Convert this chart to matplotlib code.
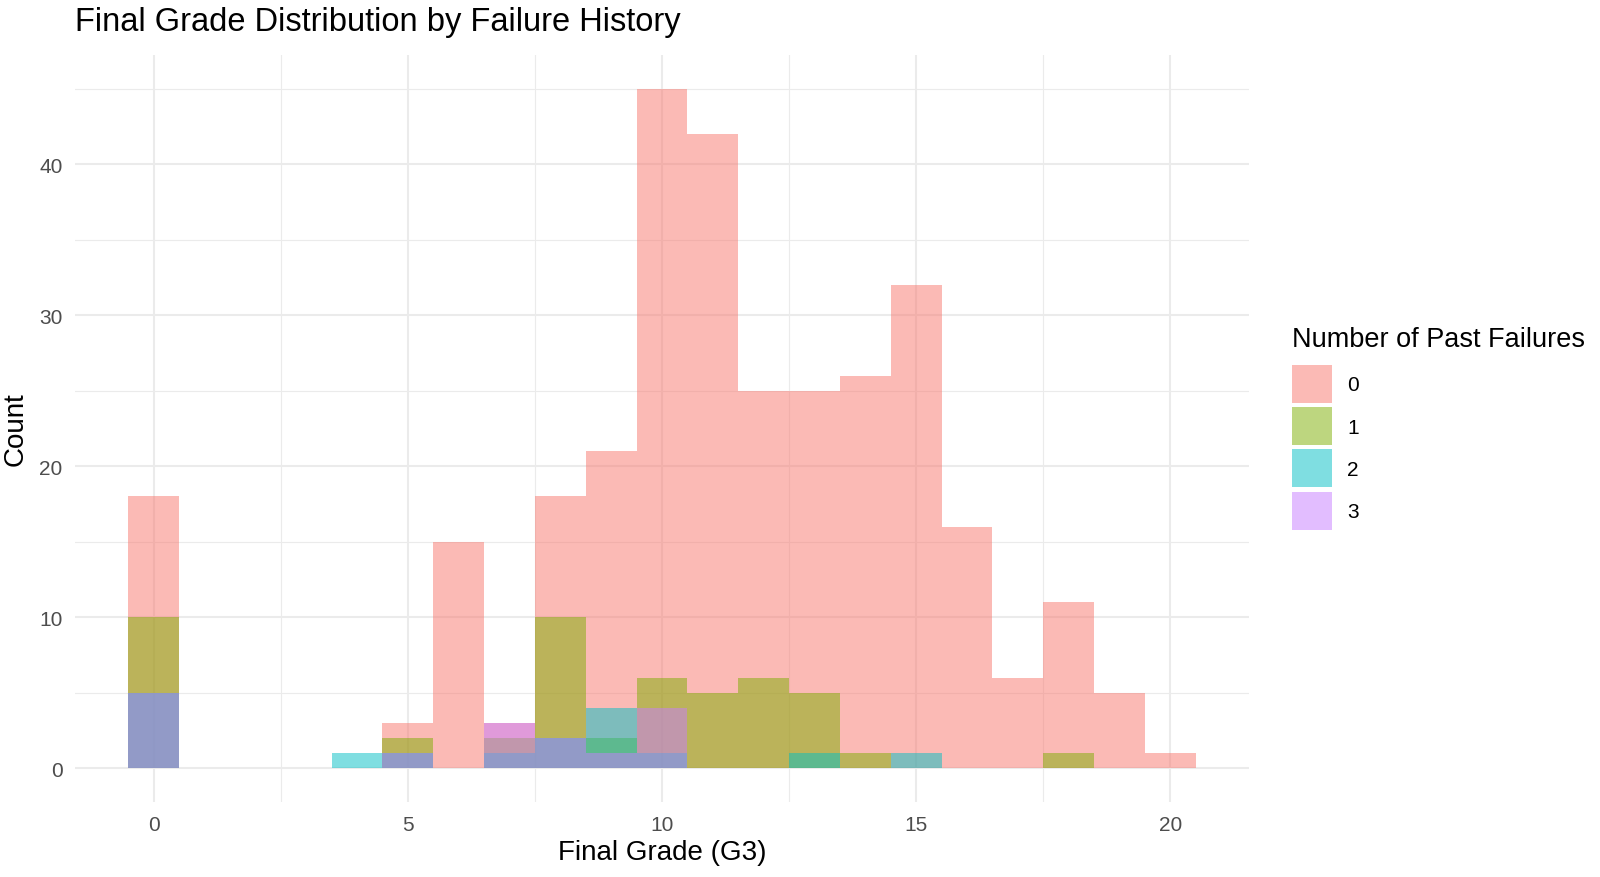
import matplotlib
matplotlib.use("Agg")
import matplotlib.pyplot as plt
import numpy as np
from matplotlib.patches import Patch

plt.rcParams['font.family'] = ['Liberation Sans', 'DejaVu Sans']

# Data: counts per integer grade bin (width 1) for each failure group
grades = list(range(0, 21))
counts_f0 = [18, 0, 0, 0, 0, 3, 15, 3, 18, 21, 45, 42, 25, 25, 26, 32, 16, 6, 11, 5, 1]
counts_f1 = [10, 0, 0, 0, 0, 2, 0, 2, 10, 2, 6, 5, 6, 5, 1, 0, 0, 0, 1, 0, 0]
counts_f2 = [5, 0, 0, 0, 1, 1, 0, 1, 2, 4, 1, 0, 0, 1, 0, 1, 0, 0, 0, 0, 0]
counts_f3 = [5, 0, 0, 0, 0, 1, 0, 3, 2, 1, 4, 0, 0, 0, 0, 0, 0, 0, 0, 0, 0]
group_labels = ["0", "1", "2", "3"]
group_colors = ["#F8766D", "#7CAE00", "#00BFC4", "#C77CFF"]

fig = plt.figure(figsize=(16, 8.78), dpi=100)
ax = fig.add_axes([0.0469, 0.0854, 0.7337, 0.8508])

for counts, col in zip([counts_f0, counts_f1, counts_f2, counts_f3], group_colors):
    ax.bar(grades, counts, width=1.0, color=col, alpha=0.5, linewidth=0, zorder=2)

ax.set_xlim(-1.55, 21.55)
ax.set_ylim(-2.25, 47.25)
ax.set_xticks([0, 5, 10, 15, 20])
ax.set_xticks([2.5, 7.5, 12.5, 17.5], minor=True)
ax.set_yticks([0, 10, 20, 30, 40])
ax.set_yticks([5, 15, 25, 35, 45], minor=True)
ax.grid(which='major', color='#EBEBEB', linewidth=1.5, zorder=0)
ax.grid(which='minor', color='#EBEBEB', linewidth=0.8, zorder=0)
ax.set_axisbelow(True)
for s in ax.spines.values():
    s.set_visible(False)
ax.tick_params(which='both', length=0, labelsize=15, colors='#4D4D4D')
ax.tick_params(axis='x', pad=9)
ax.tick_params(axis='y', pad=9)

fig.text(662 / 1600, 1 - 853 / 878, "Final Grade (G3)", fontsize=20,
         ha='center', va='center', color='black')
fig.text(16 / 1600, 1 - 429.5 / 878, "Count", fontsize=20, rotation=90,
         ha='center', va='center', color='black')
fig.text(75 / 1600, 1 - 23 / 878, "Final Grade Distribution by Failure History", fontsize=23.5,
         ha='left', va='center', color='black')

# Legend title placed separately for precise spacing
fig.text(1292 / 1600, 1 - 347 / 878, "Number of Past Failures", fontsize=19.5,
         ha='left', va='baseline', color='black')
handles = [Patch(facecolor=c, alpha=0.5, edgecolor='none') for c in group_colors]
leg = fig.legend(handles, group_labels,
                 loc='upper left', bbox_to_anchor=(1292 / 1600, 1 - 366 / 878), frameon=False,
                 fontsize=15, handlelength=1.92, handleheight=2.43,
                 handletextpad=0.72, labelspacing=0.2, borderpad=0, borderaxespad=0)

fig.savefig("out.png", dpi=100)
